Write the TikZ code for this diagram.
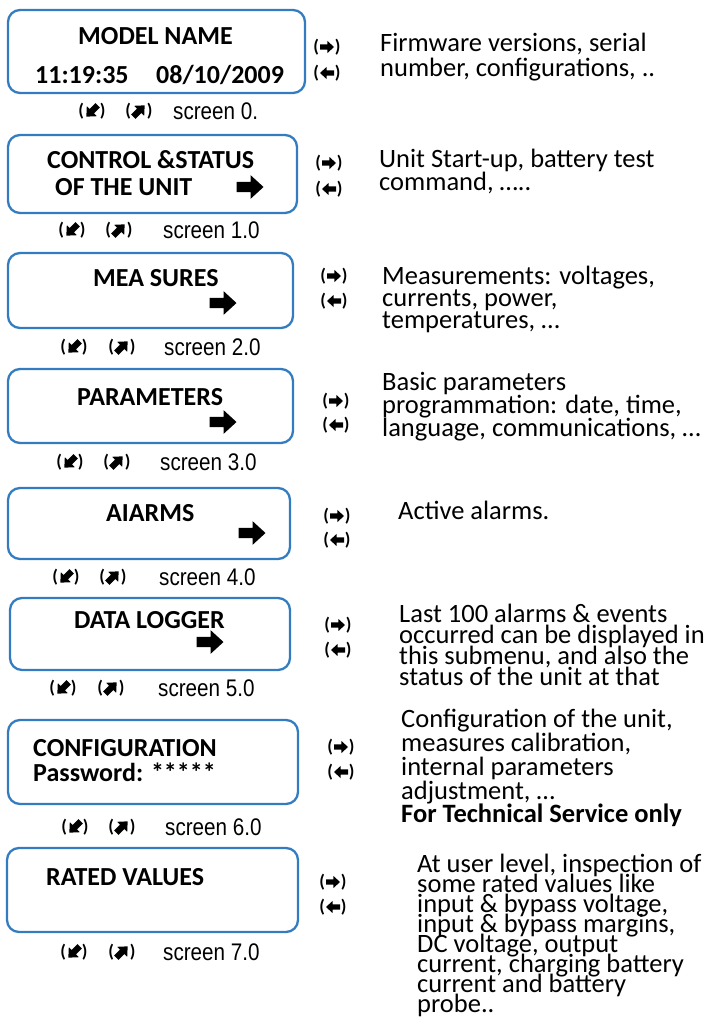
\documentclass[tikz,border=0pt]{standalone}
\usepackage{fontspec}
\setmainfont{Carlito}
\newfontfamily\narrowfont[FakeStretch=0.86]{Liberation Sans}
\usetikzlibrary{positioning}
\definecolor{lcdblue}{RGB}{52,124,192}
\newcommand{\tightlines}{\lineskiplimit=-100pt\relax}
% heavy arrow: centre, angle, length
\newcommand{\fatarrow}[3]{%
  \fill[shift={#1},rotate=#2,scale=#3] (-0.5,-0.19) -- (0.02,-0.19) -- (0.02,-0.44)
    -- (0.5,0) -- (0.02,0.44) -- (0.02,0.19) -- (-0.5,0.19) -- cycle;}
% keys at the side of a screen
\newcommand{\sidekeys}[4]{%
  \node[navkey] (#1fwd) at (#2,#3) {(\hspace{16pt})};
  \node[navkey] (#1back) at (#2,#4) {(\hspace{16pt})};
  \fatarrow{(#1fwd.center)}{0}{14}
  \fatarrow{(#1back.center)}{180}{14}}
% keys and number under a screen
\newcommand{\screenno}[6]{%
  \node[navkey] (#1dn) at (#2,#5) {(\hspace{16pt})};
  \node[navkey] (#1up) at (#3,#5) {(\hspace{16pt})};
  \fatarrow{(#1dn.center)}{225}{16}
  \fatarrow{(#1up.center)}{45}{16}
  \node[scrlabel] (#1no) at (#4,#5) {screen #6};}

\begin{document}
\begin{tikzpicture}[x=1pt,y=-1pt,
  lcd/.style={draw=lcdblue,line width=2.3pt,rounded corners=12pt},
  boxtitle/.style={anchor=base west,inner sep=0pt,font=\bfseries\fontsize{26}{26}\selectfont},
  desctext/.style={anchor=base west,inner sep=0pt,align=left,
    font=\fontsize{26.5}{#1}\selectfont\tightlines},
  navkey/.style={inner sep=0pt,font=\bfseries\fontsize{18}{18}\selectfont},
  scrlabel/.style={anchor=west,inner sep=0pt,font=\narrowfont\fontsize{24}{24}\selectfont}]
\useasboundingbox (0,0) rectangle (705,1025);

% screen 0
\draw[lcd] (8,10) rectangle (305,93);
\node[boxtitle] (t0) at (78,45) {MODEL NAME};
\node[boxtitle] (t0time) at (35,83) {11:19:35};
\node[boxtitle] (t0date) at (156,83) {08/10/2009};
\sidekeys{s0}{327}{47}{73}
\node[desctext=25] (d0) at (380,77) {Firmware versions, serial\\number, configurations, ..};
\screenno{s0}{92}{139}{173}{111}{0.}

% screen 1
\draw[lcd] (8,135) rectangle (297,213);
\node[boxtitle] (t1) at (47,168) {CONTROL \&STATUS};
\node[boxtitle] (t1b) at (55,195) {OF THE UNIT};
\node[inner sep=0pt,minimum size=24pt] (a1) at (250,187) {};
\fatarrow{(a1.center)}{0}{27}
\sidekeys{s1}{329}{163}{189}
\node[desctext=23] (d1) at (379,190) {Unit Start-up, battery test\\command, …..};
\screenno{s1}{72}{119}{163}{230}{1.0}

% screen 2
\draw[lcd] (8,253) rectangle (293,328);
\node[boxtitle] (t2) at (93,286) {MEA SURES};
\node[inner sep=0pt,minimum size=24pt] (a2) at (223,303) {};
\fatarrow{(a2.center)}{0}{27}
\sidekeys{s2}{334}{276}{301}
\node[desctext=22] (d2) at (382,328) {Measurements: voltages,\\currents, power,\\temperatures, …};
\screenno{s2}{74}{122}{164}{347}{2.0}

% screen 3
\draw[lcd] (8,369) rectangle (293,443);
\node[boxtitle] (t3) at (77,405) {PARAMETERS};
\node[inner sep=0pt,minimum size=24pt] (a3) at (223,422) {};
\fatarrow{(a3.center)}{0}{27}
\sidekeys{s3}{336}{401}{425}
\node[desctext=23] (d3) at (382,436) {Basic parameters\\programmation: date, time,\\language, communications, …};
\screenno{s3}{70}{117}{160}{462}{3.0}

% screen 4
\draw[lcd] (8,488) rectangle (290,559);
\node[boxtitle] (t4) at (106,521) {AIARMS};
\node[inner sep=0pt,minimum size=24pt] (a4) at (252,533) {};
\fatarrow{(a4.center)}{0}{27}
\sidekeys{s4}{337}{516}{540}
\node[desctext=23] (d4) at (398,519) {Active alarms.};
\screenno{s4}{66}{113}{159}{577}{4.0}

% screen 5
\draw[lcd] (10,598) rectangle (290,670);
\node[boxtitle] (t5) at (74,628) {DATA LOGGER};
\node[inner sep=0pt,minimum size=24pt] (a5) at (210,642) {};
\fatarrow{(a5.center)}{0}{27}
\sidekeys{s5}{338}{625}{650}
\node[desctext=21] (d5) at (399,685) {Last 100 alarms \& events\\occurred can be displayed in\\this submenu, and also the\\status of the unit at that};
\screenno{s5}{63}{111}{158}{688}{5.0}

% screen 6
\draw[lcd] (8,720) rectangle (298,804);
\node[boxtitle] (t6) at (33,756) {CONFIGURATION};
\node[boxtitle] (t6b) at (33,781) {Password: *****};
\sidekeys{s6}{341}{747}{772}
\node[desctext=24] (d6) at (401,799) {Configuration of the unit,\\measures calibration,\\internal parameters\\adjustment, …};
\node[boxtitle,font=\bfseries\fontsize{26.5}{26.5}\selectfont] (d6b) at (401,822) {For Technical Service only};
\screenno{s6}{75}{122}{165}{827}{6.0}

% screen 7
\draw[lcd] (7,848) rectangle (298,932);
\node[boxtitle] (t7) at (46,885) {RATED VALUES};
\sidekeys{s7}{333}{882}{907}
\node[desctext=20] (d7) at (417,1012) {At user level, inspection of\\some rated values like\\input \& bypass voltage,\\input \& bypass margins,\\DC voltage, output\\current, charging battery\\current and battery\\probe..};
\screenno{s7}{74}{122}{163}{952}{7.0}
\end{tikzpicture}
\end{document}
